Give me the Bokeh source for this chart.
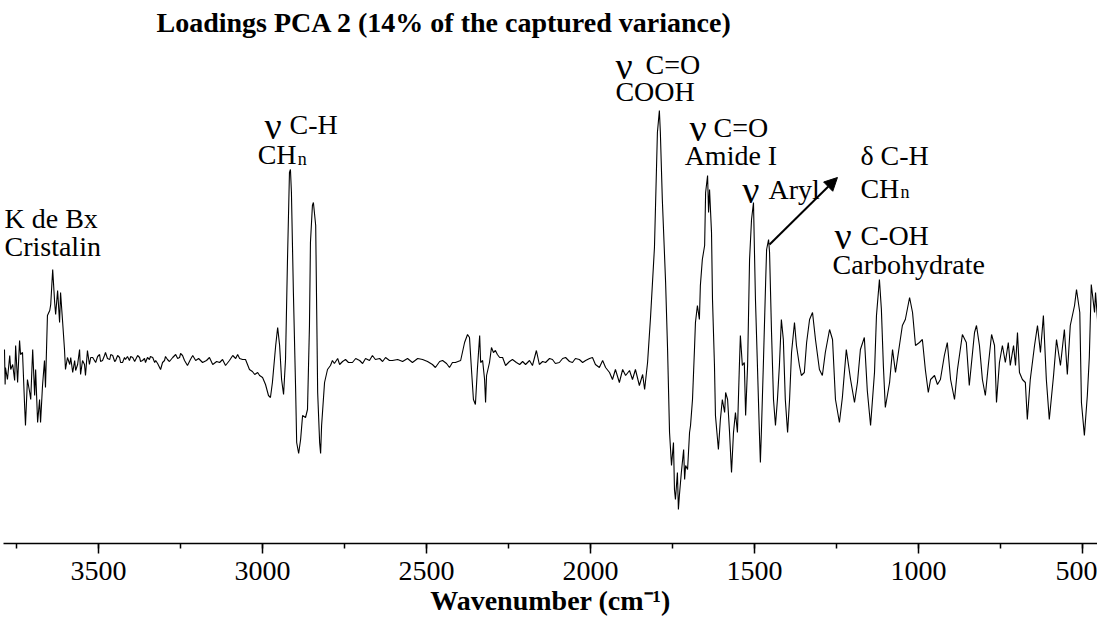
from bokeh.plotting import figure
from bokeh.models import Range1d, SingleIntervalTicker, Arrow, NormalHead
from bokeh.core.properties import value
from bokeh.embed import file_html
from bokeh.resources import INLINE

# ---- spectrum: wavenumber (cm-1) and PC2 loading ----
wn_a = [3787, 3785, 3784, 3778, 3771, 3768, 3762, 3756, 3753, 3747,
        3741, 3738, 3732, 3726, 3723, 3717, 3710, 3707, 3701, 3695,
        3692, 3686, 3680, 3677, 3671, 3665, 3662, 3656, 3649, 3646,
        3640, 3634, 3631, 3625, 3619, 3616, 3610, 3604, 3601, 3595,
        3588, 3585, 3579, 3573, 3570, 3564, 3558, 3555, 3549, 3543,
        3540, 3534, 3528, 3524, 3518]
ld_a = [0.011, -0.024, -0.007, -0.019, 0.005, -0.009, -0.004, -0.020, 0.015, -0.022,
        0.020, 0.006, 0.008, -0.042, -0.065, -0.019, -0.032, -0.039, 0.011, -0.035,
        -0.009, -0.062, -0.039, -0.062, -0.025, 0.000, -0.027, 0.045, 0.050, 0.056,
        0.091, 0.058, 0.046, 0.070, 0.038, 0.068, 0.040, 0.011, -0.009, 0.003,
        -0.004, 0.003, -0.012, 0.000, -0.010, -0.004, 0.011, -0.014, 0.000, -0.004,
        -0.015, 0.010, -0.004, 0.003, 0.003]

wn_b = [3509, 3503, 3497, 3494, 3488, 3482, 3479, 3473, 3466, 3463,
        3457, 3451, 3448, 3442, 3436, 3433, 3427, 3421, 3418, 3412,
        3406, 3402, 3396, 3390, 3387, 3381, 3375, 3372, 3366, 3360,
        3357, 3351, 3345, 3342, 3335, 3329, 3326, 3320, 3311, 3305,
        3299, 3296, 3290, 3284, 3274, 3265, 3259, 3253, 3250, 3244,
        3238, 3229, 3223, 3220]
ld_b = [-0.002, 0.004, 0.006, -0.001, 0.000, 0.005, 0.008, 0.002, 0.001, 0.006,
        0.005, -0.001, 0.000, 0.005, 0.003, -0.002, -0.002, 0.003, 0.001, 0.004,
        0.000, 0.004, 0.003, -0.001, 0.001, 0.005, 0.003, -0.001, 0.000, 0.002,
        -0.002, 0.003, 0.001, 0.004, 0.003, -0.002, 0.000, -0.003, -0.009, -0.002,
        0.000, 0.004, 0.001, -0.001, 0.003, 0.006, 0.002, 0.003, 0.007, 0.005,
        0.000, -0.005, -0.001, 0.001]

wn_c = [3213, 3204, 3195, 3183, 3171, 3162, 3152, 3140, 3131, 3122,
        3113, 3101, 3091, 3082, 3076, 3070, 3061, 3052, 3040, 3031,
        3024, 3015, 3009, 3000, 2991, 2982, 2976, 2970, 2960, 2954,
        2948, 2942, 2936, 2930, 2924, 2918, 2915, 2912, 2906, 2899,
        2896, 2890, 2884, 2878, 2869, 2863, 2857, 2854, 2848, 2845,
        2838, 2835, 2832, 2826, 2823, 2820, 2811, 2802, 2793, 2787,
        2781, 2771, 2765, 2756, 2747, 2738, 2726, 2716, 2704, 2695,
        2686, 2674, 2665, 2656, 2643, 2634, 2625, 2613, 2604]
ld_c = [0.005, 0.000, 0.002, -0.002, 0.000, 0.003, -0.004, -0.001, -0.002, 0.001,
        -0.005, 0.000, 0.005, 0.002, 0.006, 0.002, 0.001, 0.001, -0.009, -0.011,
        -0.014, -0.012, -0.015, -0.017, -0.024, -0.035, -0.037, -0.022, 0.015, 0.033,
        0.015, -0.019, -0.034, 0.001, 0.101, 0.188, 0.191, 0.168, 0.068, -0.032,
        -0.082, -0.093, -0.079, -0.055, -0.057, -0.049, 0.035, 0.118, 0.155, 0.158,
        0.135, 0.051, -0.032, -0.082, -0.093, -0.065, -0.022, -0.009, -0.005, 0.000,
        -0.003, 0.002, -0.004, -0.001, 0.001, -0.002, -0.002, 0.002, 0.000, -0.003,
        0.002, 0.000, 0.005, 0.001, 0.002, -0.001, 0.003, 0.000, 0.000]

wn_d = [2588, 2573, 2558, 2543, 2527, 2512, 2497, 2482, 2473, 2460,
        2451, 2439, 2430, 2421, 2412, 2396, 2384, 2375, 2369, 2363,
        2357, 2351, 2345, 2338, 2335, 2329, 2323, 2320, 2317, 2308,
        2302, 2296, 2290, 2284, 2277, 2268, 2259, 2247, 2238, 2226,
        2216, 2207, 2198, 2186, 2177, 2165, 2156, 2146, 2137, 2125,
        2116, 2107, 2095, 2085, 2076, 2064, 2055, 2046, 2034, 2024,
        2015, 2003, 1994, 1985, 1973, 1963, 1954, 1942, 1933, 1924,
        1912, 1902, 1893, 1881, 1872, 1863, 1851, 1841, 1835]
ld_d = [0.001, -0.001, 0.002, -0.002, 0.002, 0.001, -0.001, -0.004, -0.007, -0.001,
        0.000, -0.003, -0.007, -0.002, -0.002, 0.000, 0.018, 0.026, 0.023, -0.009,
        -0.039, -0.044, -0.009, 0.025, -0.002, 0.000, -0.019, -0.042, -0.015, -0.002,
        0.013, 0.008, 0.010, 0.006, 0.003, 0.003, -0.005, -0.001, 0.001, -0.002,
        -0.004, -0.001, -0.004, 0.000, -0.005, 0.010, -0.004, -0.001, -0.002, 0.002,
        0.001, -0.003, -0.002, 0.002, 0.003, -0.001, -0.002, 0.002, 0.001, -0.002,
        0.000, 0.002, 0.003, -0.004, -0.007, 0.000, -0.007, -0.012, -0.019, -0.009,
        -0.022, -0.009, -0.015, -0.010, -0.019, -0.009, -0.025, -0.014, -0.029]

wn_e = [1826, 1817, 1805, 1796, 1790, 1787, 1781, 1771, 1765, 1759,
        1753, 1747, 1744, 1741, 1735, 1732, 1729, 1723, 1716, 1713,
        1710, 1704, 1698, 1695, 1689, 1683, 1680, 1674, 1668, 1665,
        1659, 1652, 1649, 1643, 1640, 1637, 1631, 1628, 1622, 1619,
        1610, 1604, 1598, 1591, 1588, 1582, 1576, 1570, 1564, 1558,
        1552, 1546, 1543, 1537, 1531, 1527, 1521, 1515, 1509, 1503,
        1500, 1497, 1491, 1485, 1482, 1479, 1473, 1466, 1463, 1457,
        1454, 1448, 1442, 1436, 1430, 1424, 1418, 1412, 1406, 1399,
        1393, 1387, 1378, 1372, 1363, 1357, 1348, 1341, 1332, 1323,
        1314, 1302, 1293, 1284, 1271, 1262, 1253, 1241, 1232, 1220,
        1207, 1195, 1186, 1177, 1165, 1156, 1146, 1134, 1128, 1119,
        1113, 1107, 1101, 1088, 1079]
ld_e = [-0.002, 0.043, 0.113, 0.228, 0.250, 0.228, 0.161, 0.078, 0.011, -0.072,
        -0.105, -0.082, -0.129, -0.139, -0.112, -0.149, -0.135, -0.112, -0.089, -0.119,
        -0.105, -0.109, -0.072, -0.065, -0.039, 0.011, 0.038, 0.055, 0.041, 0.075,
        0.101, 0.115, 0.168, 0.185, 0.148, 0.171, 0.128, 0.061, -0.005, -0.055,
        -0.089, -0.059, -0.039, -0.052, -0.032, -0.039, -0.072, -0.112, -0.072, -0.052,
        -0.072, -0.005, 0.025, -0.005, -0.002, -0.055, -0.005, 0.101, 0.141, 0.158,
        0.108, 0.061, -0.005, -0.072, -0.102, -0.072, -0.005, 0.078, 0.111, 0.121,
        0.108, 0.028, -0.039, -0.065, -0.039, -0.005, 0.041, 0.021, -0.039, -0.072,
        -0.039, 0.008, 0.038, 0.015, -0.005, -0.015, -0.012, 0.018, 0.041, 0.048,
        0.021, -0.009, -0.015, 0.008, 0.031, 0.021, -0.039, -0.062, -0.037, 0.011,
        -0.019, -0.042, -0.022, 0.011, 0.023, -0.030, -0.065, -0.012, 0.045, 0.081,
        0.051, -0.005, -0.047, -0.022, 0.011]

wn_f = [1070, 1058, 1049, 1040, 1027, 1018, 1009, 997, 988, 979,
        970, 963, 951, 942, 933, 921, 912, 902, 890, 881,
        866, 854, 845, 829, 823, 814, 805, 796, 787, 777,
        768, 762, 753, 744, 735, 726, 720, 710, 704, 698,
        692, 683, 674, 668, 659, 646, 637, 628, 619, 610,
        601, 588, 579, 567, 555, 546, 537, 524, 518, 508,
        503, 494, 485, 479, 473, 463, 460, 454, 448, 445,
        439, 436, 435]
ld_f = [-0.012, 0.015, 0.035, 0.041, 0.063, 0.048, 0.015, 0.018, 0.021, -0.009,
        -0.032, -0.019, -0.015, -0.024, -0.019, 0.005, 0.018, -0.019, -0.039, -0.009,
        0.026, 0.018, -0.025, 0.028, 0.035, 0.015, -0.019, -0.035, -0.005, 0.026,
        0.015, -0.042, -0.002, 0.015, -0.002, 0.018, -0.005, 0.015, -0.005, 0.028,
        -0.012, -0.019, -0.022, -0.059, -0.019, 0.015, 0.035, 0.008, 0.045, -0.019,
        -0.059, -0.015, 0.021, -0.005, 0.031, -0.014, 0.035, 0.055, 0.071, 0.048,
        -0.042, -0.075, -0.035, 0.003, 0.076, 0.048, 0.068, 0.041, -0.095, -0.052,
        -0.079, 0.151, -0.183]

wavenumber = wn_a + wn_b + wn_c + wn_d + wn_e + wn_f
loading = ld_a + ld_b + ld_c + ld_d + ld_e + ld_f

# ---- band annotations ----
label_text = ["K de Bx", "Cristalin", "C-H", "CH", "C=O", "COOH", "C=O",
              "Amide I", "Aryl", "δ C-H", "CH", "C-OH", "Carbohydrate"]
label_wn = [3787, 3787, 2918, 3015, 1832, 1924, 1625, 1713, 1457, 1177, 1177, 1177, 1262]
label_ld = [0.142, 0.114, 0.236, 0.206, 0.296, 0.269, 0.233, 0.205, 0.171, 0.205, 0.172, 0.125, 0.096]

nu_text = ["ν", "ν", "ν", "ν", "ν"]
nu_wn = [2994, 1924, 1698, 1537, 1256]
nu_ld = [0.235, 0.295, 0.233, 0.171, 0.125]

sub_text = ["n", "n"]
sub_wn = [2893, 1055]
sub_ld = [0.202, 0.169]

arrow_from = (1454, 0.116)
arrow_to = (1247, 0.183)

FONT = "Liberation Serif"

p = figure(width=1097, height=627,
           x_range=Range1d(3790, 454), y_range=Range1d(-0.183, 0.323),
           y_axis_type=None, output_backend="svg", toolbar_location=None,
           min_border_left=3, min_border_right=0, min_border_top=37, min_border_bottom=84)
p.grid.visible = False
p.outline_line_color = None
p.background_fill_color = "white"
p.border_fill_color = "white"

p.title.text = "Loadings PCA 2 (14% of the captured variance)"
p.title.text_font = FONT
p.title.text_font_size = "28px"
p.title.text_font_style = "bold"
p.title.text_color = "black"
p.title.align = "left"
p.title.offset = 153
p.title.standoff = 0

ax = p.xaxis[0]
ax.ticker = SingleIntervalTicker(interval=500, num_minor_ticks=2)
ax.axis_label = "Wavenumber (cm⁻¹)"
ax.axis_label_text_font = FONT
ax.axis_label_text_font_size = "28px"
ax.axis_label_text_font_style = "bold"
ax.axis_label_text_color = "black"
ax.axis_label_standoff = 2
ax.major_label_text_font = FONT
ax.major_label_text_font_size = "28px"
ax.major_label_text_color = "black"
ax.major_label_standoff = 8
ax.axis_line_color = "black"
ax.axis_line_width = 1.5
ax.major_tick_line_color = "black"
ax.major_tick_line_width = 1.5
ax.minor_tick_line_color = "black"
ax.minor_tick_line_width = 1.5
ax.major_tick_in = 0
ax.major_tick_out = 10
ax.minor_tick_in = 0
ax.minor_tick_out = 5

p.line(wavenumber, loading, line_color="black", line_width=1.1)

p.add_layout(Arrow(end=NormalHead(size=13, fill_color="black", line_color="black"),
                   x_start=arrow_from[0], y_start=arrow_from[1],
                   x_end=arrow_to[0], y_end=arrow_to[1],
                   line_color="black", line_width=2))

p.text(x=label_wn, y=label_ld, text=label_text, text_font=value(FONT),
       text_font_size="28px", text_color="black", text_align="left", text_baseline="alphabetic")
p.text(x=nu_wn, y=nu_ld, text=nu_text, text_font=value(FONT),
       text_font_size="38px", text_color="black", text_align="left", text_baseline="alphabetic")
p.text(x=sub_wn, y=sub_ld, text=sub_text, text_font=value(FONT),
       text_font_size="18px", text_color="black", text_align="left", text_baseline="alphabetic")

open("out.html", "w").write(file_html(p, INLINE))
